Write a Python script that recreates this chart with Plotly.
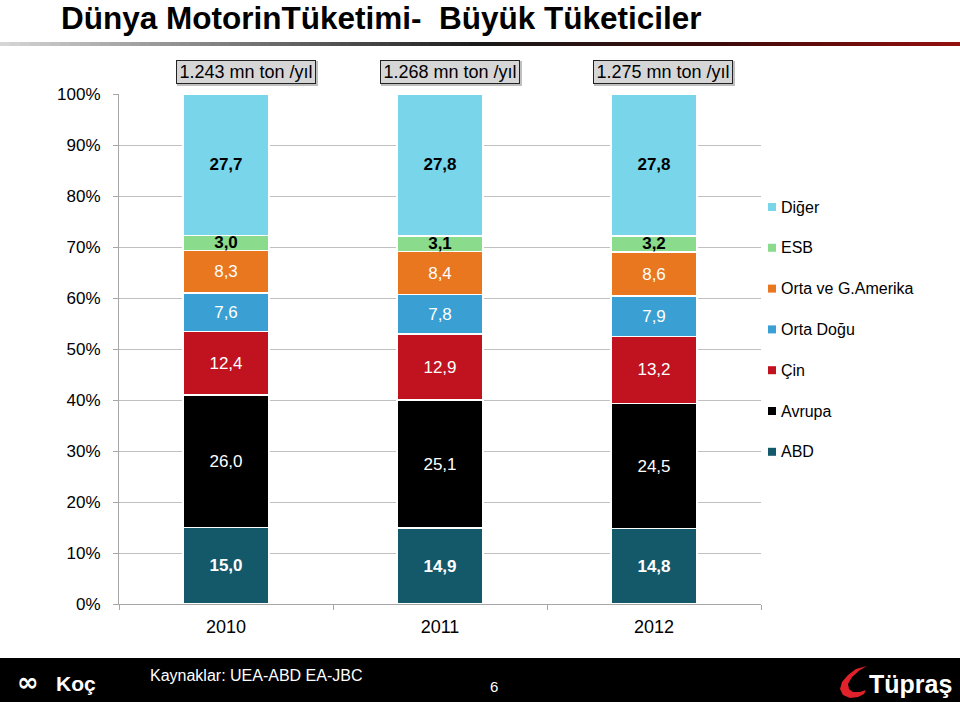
import plotly.graph_objects as go

# ---------------- data ----------------
years = ["2010", "2011", "2012"]
series_names = ["ABD", "Avrupa", "Çin", "Orta Doğu", "Orta ve G.Amerika", "ESB", "Diğer"]
abd = [15.0, 14.9, 14.8]
avrupa = [26.0, 25.1, 24.5]
cin = [12.4, 12.9, 13.2]
orta_dogu = [7.6, 7.8, 7.9]
orta_g_amerika = [8.3, 8.4, 8.6]
esb = [3.0, 3.1, 3.2]
diger = [27.7, 27.8, 27.8]
totals_kt = [1243, 1268, 1275]  # bin ton / yıl -> "1.243 mn ton /yıl"
y_ticks = [0, 10, 20, 30, 40, 50, 60, 70, 80, 90, 100]

series_values = [abd, avrupa, cin, orta_dogu, orta_g_amerika, esb, diger]
colors = ["#14596A", "#000000", "#C0131F", "#3A9FD3", "#E8771F", "#8ADB8B", "#78D5EA"]
text_colors = ["white", "white", "white", "white", "white", "black", "black"]
text_bold = [True, False, False, False, False, True, True]

FONT = "Liberation Sans, Arial, Helvetica, sans-serif"

# ---------------- geometry helpers (pixel -> paper) ----------------
W, H = 960, 702
L, R, T, B = 119, 761, 94, 604


def px(x):
    return (x - L) / (R - L)


def py(y):
    return (B - y) / (B - T)


fig = go.Figure()

for name, vals, col, tc, bold in zip(series_names, series_values, colors, text_colors, text_bold):
    fig.add_trace(go.Bar(
        x=years, y=vals, name=name,
        marker=dict(color=col, line=dict(color="white", width=1.5)),
        texttemplate=("<b>%{y:.1f}</b>" if bold else "%{y:.1f}"),
        textposition="inside", insidetextanchor="middle", textangle=0,
        textfont=dict(color=tc, size=17, family=FONT),
        showlegend=False, hoverinfo="skip",
    ))

shapes = []
annotations = []

# title
annotations.append(dict(
    xref="paper", yref="paper", x=px(59), y=py(18), xanchor="left", yanchor="middle",
    text="<b>Dünya MotorinTüketimi-\u00a0 Büyük Tüketiciler</b>", showarrow=False,
    font=dict(family=FONT, size=31.5, color="black")))

# gradient rule under title
def lerp(c1, c2, t):
    return tuple(int(round(a + (b - a) * t)) for a, b in zip(c1, c2))

stops = [(0.0, (215, 215, 215)), (0.5, (25, 25, 25)), (0.75, (60, 10, 10)), (1.0, (150, 15, 15))]
nseg = 96
for i in range(nseg):
    t = (i + 0.5) / nseg
    for (t0, c0), (t1, c1) in zip(stops[:-1], stops[1:]):
        if t0 <= t <= t1:
            c = lerp(c0, c1, (t - t0) / (t1 - t0))
            break
    x0 = i * W / nseg
    x1 = (i + 1) * W / nseg + 0.6
    shapes.append(dict(type="rect", xref="paper", yref="paper",
                       x0=px(x0), x1=px(x1), y0=py(46), y1=py(42),
                       fillcolor="rgb(%d,%d,%d)" % c, line=dict(width=0), layer="above"))

# total boxes above bars
box_centers = [246, 450, 663]
for v, cx in zip(totals_kt, box_centers):
    shapes.append(dict(type="rect", xref="paper", yref="paper",
                       x0=px(cx - 69), x1=px(cx + 72), y0=py(86), y1=py(61),
                       fillcolor="rgba(0,0,0,0.25)", line=dict(width=0), layer="above"))
    annotations.append(dict(
        xref="paper", yref="paper", x=px(cx), y=py(72), xanchor="center", yanchor="middle",
        text="%s mn ton /yıl" % f"{v / 1000:.3f}", showarrow=False,
        font=dict(family=FONT, size=18, color="black"),
        bgcolor="#d6d6d6", bordercolor="#222222", borderwidth=1, borderpad=1,
        width=136, height=20))

# manual legend (Diğer at top)
leg_y0 = 207
leg_dy = 40.8
for k, (name, col) in enumerate(reversed(list(zip(series_names, colors)))):
    yc = leg_y0 + k * leg_dy
    shapes.append(dict(type="rect", xref="paper", yref="paper",
                       x0=px(768), x1=px(776), y0=py(yc + 4), y1=py(yc - 4),
                       fillcolor=col, line=dict(width=0)))
    annotations.append(dict(
        xref="paper", yref="paper", x=px(779), y=py(yc), xanchor="left", yanchor="middle",
        text=name, showarrow=False, font=dict(family=FONT, size=16, color="black")))

# footer band
shapes.append(dict(type="rect", xref="paper", yref="paper",
                   x0=px(0), x1=px(W), y0=py(H), y1=py(658),
                   fillcolor="black", line=dict(width=0), layer="above"))
annotations.append(dict(
    xref="paper", yref="paper", x=px(148), y=py(675), xanchor="left", yanchor="middle",
    text="Kaynaklar: UEA-ABD EA-JBC", showarrow=False,
    font=dict(family=FONT, size=16, color="white")))
annotations.append(dict(
    xref="paper", yref="paper", x=px(494), y=py(686), xanchor="center", yanchor="middle",
    text="6", showarrow=False, font=dict(family=FONT, size=15, color="white")))
# Koç logo (approximate)
annotations.append(dict(
    xref="paper", yref="paper", x=px(15), y=py(682), xanchor="left", yanchor="middle",
    text="<b>∞</b>", showarrow=False, font=dict(family="DejaVu Sans", size=26, color="white")))
annotations.append(dict(
    xref="paper", yref="paper", x=px(54), y=py(683), xanchor="left", yanchor="middle",
    text="<b>Koç</b>", showarrow=False, font=dict(family=FONT, size=21, color="white")))


# Tüpraş logo (approximate drop mark + text)
def path_from(points):
    s = "M %f %f" % (px(points[0][0]), py(points[0][1]))
    for (x, y) in points[1:]:
        s += " L %f %f" % (px(x), py(y))
    return s + " Z"

drop = [(867, 666), (856, 669), (848, 675), (842, 682), (840, 689), (843, 695),
        (850, 698), (858, 697), (864, 694), (866, 690), (860, 692), (853, 692),
        (849, 689), (848, 684), (852, 677), (860, 670)]
shapes.append(dict(type="path", xref="paper", yref="paper", path=path_from(drop),
                   fillcolor="#E2222A", line=dict(width=0), layer="above"))
annotations.append(dict(
    xref="paper", yref="paper", x=px(867), y=py(684), xanchor="left", yanchor="middle",
    text="<b>Tüpraş</b>", showarrow=False, font=dict(family=FONT, size=25, color="white")))

fig.update_layout(
    width=W, height=H,
    margin=dict(l=L, r=W - R, t=T, b=H - B, pad=0),
    paper_bgcolor="white", plot_bgcolor="white",
    barmode="stack", bargap=0.6,
    separators=",.",
    uniformtext=dict(minsize=17, mode="show"),
    shapes=shapes, annotations=annotations,
    showlegend=False,
    font=dict(family=FONT, color="black"),
)
fig.update_xaxes(
    type="category", showgrid=False, showline=True, linecolor="#a6a6a6", linewidth=1,
    ticks="outside", tickson="boundaries", ticklen=5, tickcolor="#a6a6a6",
    ticklabelstandoff=6,
    tickfont=dict(family=FONT, size=18, color="black"), fixedrange=True)
fig.update_yaxes(
    range=[0, 100], tickvals=y_ticks, ticktext=[f"{v}%" for v in y_ticks],
    showgrid=True, gridcolor="#c0c0c0", gridwidth=1,
    showline=True, linecolor="#a6a6a6", linewidth=1,
    ticks="outside", ticklen=5, tickcolor="#a6a6a6",
    ticklabelstandoff=9,
    tickfont=dict(family=FONT, size=17, color="black"), zeroline=False, fixedrange=True)

fig.write_html("out.html")
